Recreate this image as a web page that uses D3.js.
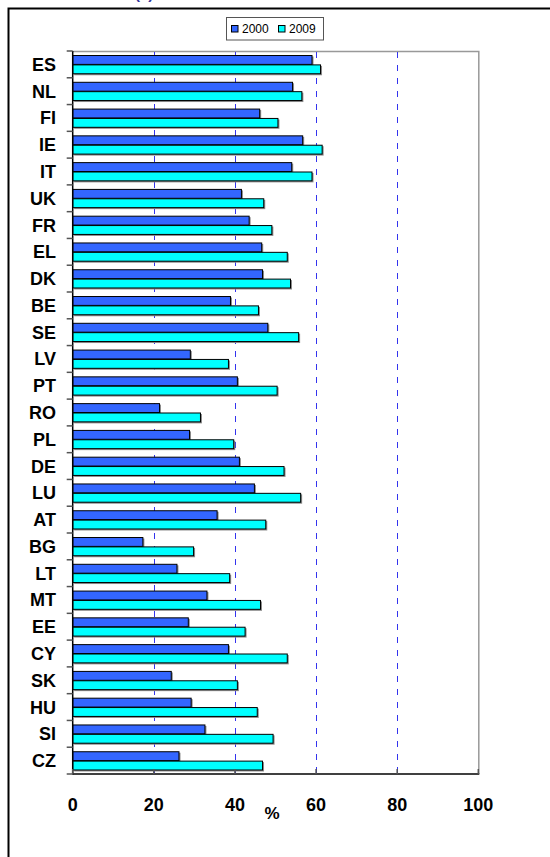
<!DOCTYPE html>
<html><head><meta charset="utf-8">
<script src="https://cdn.jsdelivr.net/npm/d3@7"></script>
<style>
html,body{margin:0;padding:0;background:#fff;}
svg{display:block;font-family:Arial,"Liberation Sans",Helvetica,sans-serif;}
</style></head>
<body>
<svg id="chart" width="550" height="857"></svg>
<script>
const categories = ["ES","NL","FI","IE","IT","UK","FR","EL","DK","BE","SE","LV","PT","RO","PL","DE","LU","AT","BG","LT","MT","EE","CY","SK","HU","SI","CZ"];
const values2000 = [59.0,54.2,46.1,56.7,54.0,41.6,43.5,46.6,46.8,38.9,48.1,29.0,40.6,21.4,28.8,41.1,44.8,35.6,17.3,25.7,33.1,28.5,38.4,24.3,29.2,32.6,26.2];
const values2009 = [61.1,56.5,50.6,61.5,59.0,47.1,49.1,52.9,53.7,45.8,55.7,38.4,50.4,31.5,39.7,52.1,56.2,47.6,29.8,38.7,46.3,42.5,52.9,40.6,45.5,49.4,46.8];
const seriesNames = ["2000","2009"];
const xTicks = [0,20,40,60,80,100];
const gridTicks = [20,40,60,80];
const colors = ["#3366ff","#00ffff"];

const svg = d3.select("#chart");

// outer frame (extends beyond image)
svg.append("rect").attr("x",8.5).attr("y",8.5).attr("width",600).attr("height",900)
  .attr("fill","none").attr("stroke","#000").attr("stroke-width",2);

// partially visible title
svg.append("text").attr("x",135).attr("y",-1).attr("fill","#333399")
  .attr("font-size",15).attr("font-weight","bold").text("(a)");

const pL = 72.7, pR = 478.3, pT = 51, pB = 774;
const x = d3.scaleLinear().domain([0,100]).range([pL,pR]);
const y = d3.scaleBand().domain(categories).range([pT,pB]).paddingInner(0.3).paddingOuter(0.15);
const ySub = d3.scaleBand().domain(seriesNames).range([0,y.bandwidth()]);

// plot border top/right (gray)
svg.append("path").attr("d",`M${pL},${pT+0.5}H${pR+0.5}V${pB}`)
  .attr("fill","none").attr("stroke","#999").attr("stroke-width",1.5);

// gridlines
svg.append("g").selectAll("line").data(gridTicks).join("line")
  .attr("x1",d=>Math.round(x(d))+0.5).attr("x2",d=>Math.round(x(d))+0.5)
  .attr("y1",pT+1).attr("y2",pB)
  .attr("stroke","#3333ee").attr("stroke-width",1).attr("stroke-dasharray","6,7");

// bars
const rows = categories.map((c,i)=>({c, vals:[values2000[i], values2009[i]]}));
const g = svg.append("g");
rows.forEach(r=>{
  r.vals.forEach((v,j)=>{
    const by = y(r.c) + ySub(seriesNames[j]);
    g.append("rect").attr("x",pL+1.5).attr("y",by+1.5)
      .attr("width",x(v)-pL).attr("height",ySub.bandwidth())
      .attr("fill","#8a8a8a");
  });
  r.vals.forEach((v,j)=>{
    const by = y(r.c) + ySub(seriesNames[j]);
    g.append("rect").attr("x",pL).attr("y",by+0.5)
      .attr("width",x(v)-pL).attr("height",ySub.bandwidth()-0.5)
      .attr("fill",colors[j]).attr("stroke","#000").attr("stroke-width",1);
  });
});

// left axis
svg.append("line").attr("x1",pL).attr("x2",pL).attr("y1",pT).attr("y2",pB+0.5)
  .attr("stroke","#000").attr("stroke-width",1.5);
const bounds = d3.range(categories.length+1).map(i=> pT + (pB-pT)*i/categories.length);
svg.append("g").selectAll("line").data(bounds).join("line")
  .attr("x1",pL-6).attr("x2",pL).attr("y1",d=>d).attr("y2",d=>d)
  .attr("stroke","#555").attr("stroke-width",1.5);
svg.append("g").selectAll("text").data(categories).join("text")
  .attr("x",56).attr("y",d=>y(d)+y.bandwidth()/2).attr("dy","0.36em")
  .attr("text-anchor","end").attr("font-size",18).attr("font-weight","bold")
  .attr("fill","#000").text(d=>d);

// bottom axis
svg.append("line").attr("x1",pL).attr("x2",pR+1).attr("y1",pB).attr("y2",pB)
  .attr("stroke","#000").attr("stroke-width",1.5);
svg.append("g").selectAll("line").data(xTicks).join("line")
  .attr("x1",d=>x(d)).attr("x2",d=>x(d)).attr("y1",pB-5).attr("y2",pB)
  .attr("stroke","#555").attr("stroke-width",1.5);
svg.append("g").selectAll("text").data(xTicks).join("text")
  .attr("x",d=>x(d)).attr("y",805).attr("dy","0.36em")
  .attr("text-anchor","middle").attr("font-size",18).attr("font-weight","bold")
  .text(d=>d);
svg.append("text").attr("x",272).attr("y",813).attr("dy","0.36em")
  .attr("text-anchor","middle").attr("font-size",17).attr("font-weight","bold").text("%");

// legend
const lg = svg.append("g");
lg.append("rect").attr("x",226.5).attr("y",17.5).attr("width",97).attr("height",22.5)
  .attr("fill","#fff").attr("stroke","#555").attr("stroke-width",1);
const legX = [231, 278];
seriesNames.forEach((s,j)=>{
  lg.append("rect").attr("x",legX[j]+0.5).attr("y",25.5).attr("width",6.5).attr("height",6.5)
    .attr("fill",colors[j]).attr("stroke","#000").attr("stroke-width",1);
  lg.append("text").attr("x",legX[j]+11).attr("y",29).attr("dy","0.36em")
    .attr("font-size",12).attr("fill","#000").text(s);
});
</script>
</body></html>
